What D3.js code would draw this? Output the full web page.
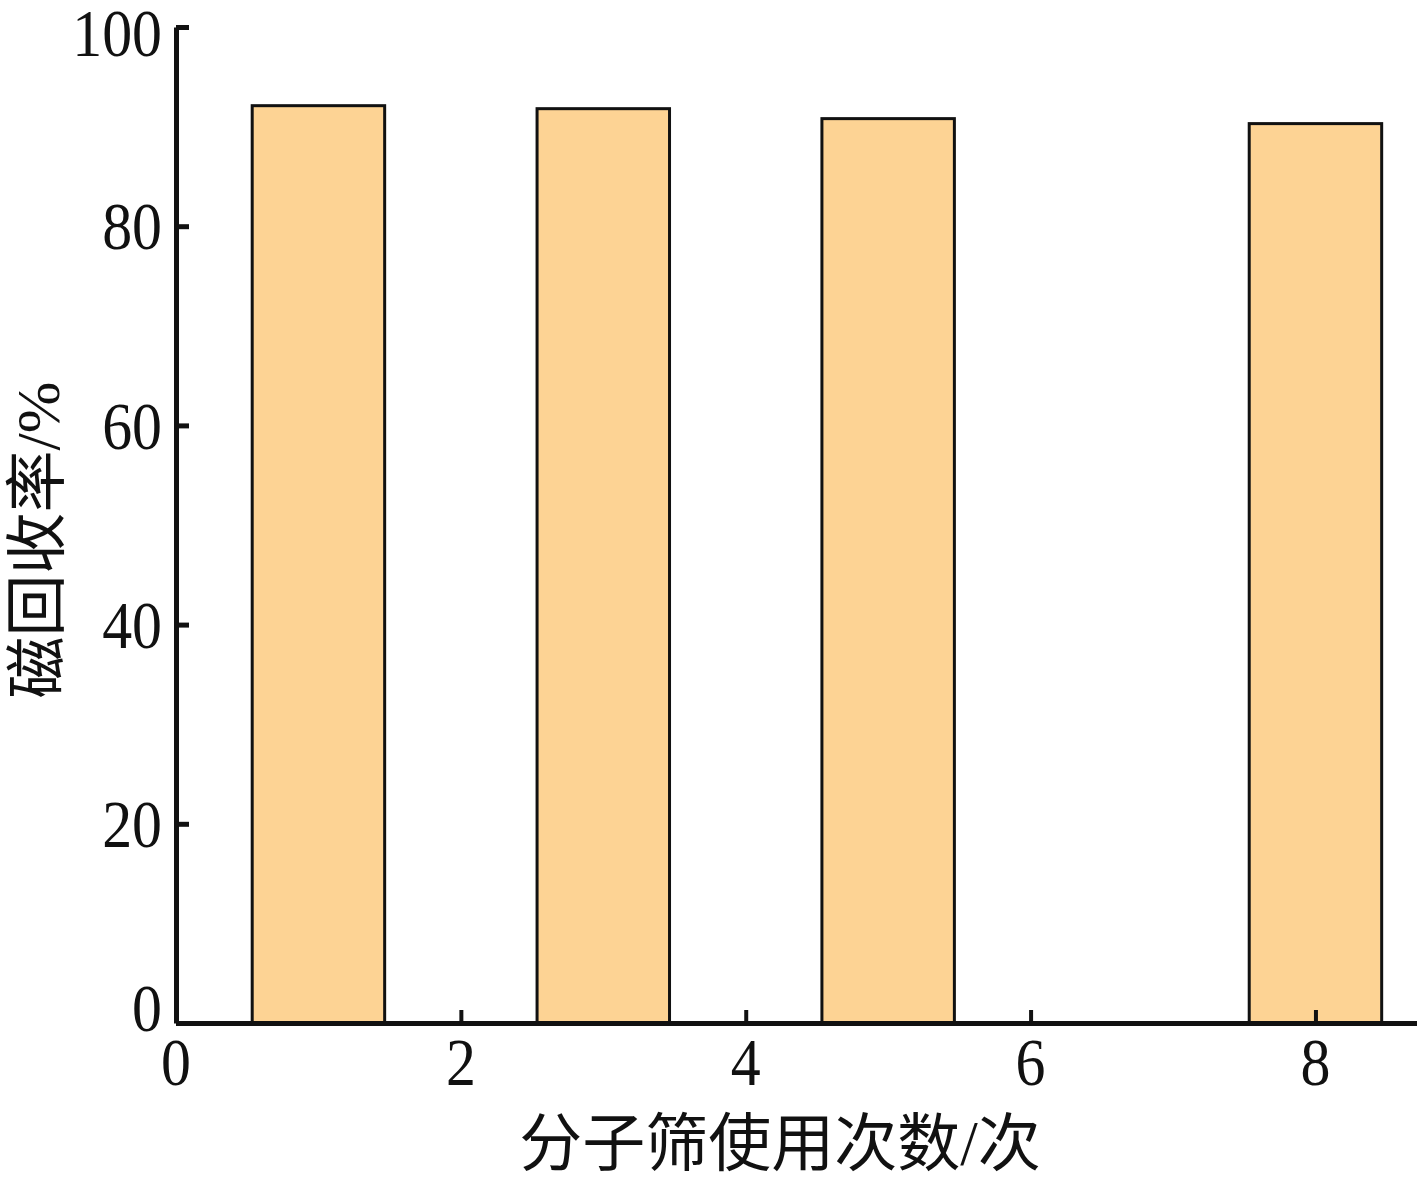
<!DOCTYPE html>
<html><head><meta charset="utf-8">
<script src="https://cdn.jsdelivr.net/npm/d3@7"></script>
<style>body{margin:0;background:#fff}svg{display:block}</style>
</head><body>
<script>
const usesX = [1, 3, 5, 8];
const recovery = [92.1, 91.8, 90.8, 90.3];
const xTicks = [0, 2, 4, 6, 8];
const yTicks = [0, 20, 40, 60, 80, 100];
const xTitle = "分子筛使用次数/次";
const yTitle = "磁回收率/%";

const W = 1417, H = 1181;
const svg = d3.select("body").append("svg").attr("width", W).attr("height", H);
const x = d3.scaleLinear().domain([0, 8.72]).range([176, 1418]);
const y = d3.scaleLinear().domain([0, 100]).range([1023, 27]);
const barW = x(0.93) - x(0);
const fontNum = "'Liberation Serif','Times New Roman',serif";
const fontCJK = "'Liberation Serif','Noto Sans CJK SC',serif";

// bars
svg.append("g").selectAll("rect").data(usesX).join("rect")
  .attr("x", (d) => x(d) - barW / 2)
  .attr("y", (d, i) => y(recovery[i]))
  .attr("width", barW)
  .attr("height", (d, i) => y(0) - y(recovery[i]))
  .attr("fill", "#FDD394")
  .attr("stroke", "#111")
  .attr("stroke-width", 3);

// y axis
const gy = svg.append("g").attr("transform", `translate(${x(0)},0)`)
  .call(d3.axisRight(y).tickValues(yTicks).tickSize(13).tickSizeOuter(0).tickFormat(""));
gy.select(".domain").attr("stroke", "#111").attr("stroke-width", 5);
gy.selectAll(".tick line").attr("stroke", "#111").attr("stroke-width", 5);

// x axis
const gx = svg.append("g").attr("transform", `translate(0,${y(0)})`)
  .call(d3.axisTop(x).tickValues(xTicks).tickSize(13).tickSizeOuter(0).tickFormat(""));
gx.select(".domain").attr("stroke", "#111").attr("stroke-width", 5);
gx.selectAll(".tick line").attr("stroke", "#111").attr("stroke-width", 4);
gx.selectAll(".tick").filter((d) => d === 0).remove();

// y tick labels
svg.append("g").selectAll("text").data(yTicks).join("text")
  .attr("transform", (d) => `translate(162,${y(d) + (d === 0 ? -15 : d === 100 ? 6 : 0)}) scale(0.88,1)`)
  .attr("text-anchor", "end").attr("dy", "0.34em")
  .attr("font-family", fontNum).attr("font-size", 68).attr("fill", "#111")
  .text((d) => d);

// x tick labels
svg.append("g").selectAll("text").data(xTicks).join("text")
  .attr("transform", (d) => `translate(${x(d)},1085) scale(0.88,1)`)
  .attr("text-anchor", "middle")
  .attr("font-family", fontNum).attr("font-size", 68).attr("fill", "#111")
  .text((d) => d);

// titles
svg.append("text").attr("x", 780).attr("y", 1165).attr("text-anchor", "middle")
  .attr("font-family", fontCJK).attr("font-size", 63).attr("fill", "#111").text(xTitle);
svg.append("text").attr("transform", "translate(59,540) rotate(-90)").attr("text-anchor", "middle")
  .attr("font-family", fontCJK).attr("font-size", 62).attr("fill", "#111").text(yTitle);
</script>
</body></html>
